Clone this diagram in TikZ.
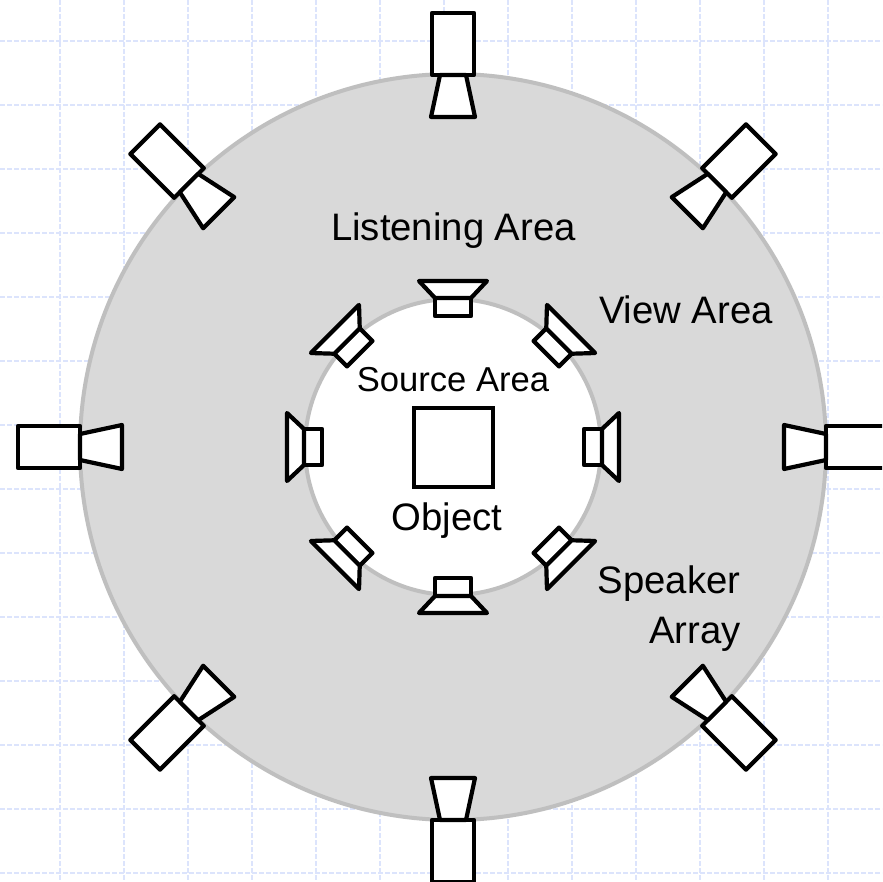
\documentclass[tikz,border=0pt]{standalone}
\usepackage{fontspec}
\setmainfont{Liberation Sans}
\definecolor{gridblue}{RGB}{220,228,252}
\tikzset{
  gridline/.style = {draw=gridblue, line width=1.6pt, dash pattern=on 5pt off 2pt},
      area/.style = {draw=black!25, line width=4pt},
   speaker/.style = {draw, fill=white, line width=4.2pt, line join=round},
     label/.style = {anchor=base, inner sep=0pt, font=\fontsize{38.3}{38.3}\selectfont},
  outerspeaker/.pic = {
    \draw[speaker] (-21,0) rectangle (21,-62);
    \draw[speaker] (-13,0) -- (13,0) -- (22,42) -- (-22,42) -- cycle;
  },
  innerspeaker/.pic = {
    \draw[speaker] (-18,0) rectangle (18,18);
    \draw[speaker] (-18,0) -- (18,0) -- (34,-17) -- (-34,-17) -- cycle;
  }
}
\begin{document}
\begin{tikzpicture}[x=1pt, y=-1pt]
\clip (0,0) rectangle (882,882);
\fill[white] (0,0) rectangle (882,882);
\foreach \x in {60,124,...,828} \draw[gridline] (\x,0) -- (\x,882);
\foreach \y in {41,105,...,873} \draw[gridline] (0,\y) -- (882,\y);
\draw[area, fill=black!15] (453,447) circle [radius=373pt];
\draw[area, fill=white] (453,447) circle [radius=148pt];
% outer ring
\pic at (453,75) {outerspeaker};
\pic[rotate=-45] at (717,183) {outerspeaker};
\pic[rotate=-90] at (826,447) {outerspeaker};
\pic[rotate=-135] at (717,711) {outerspeaker};
\pic[rotate=180] at (453,820) {outerspeaker};
\pic[rotate=135] at (189,711) {outerspeaker};
\pic[rotate=90] at (80,447) {outerspeaker};
\pic[rotate=45] at (189,183) {outerspeaker};
% inner ring
\pic at (453,298) {innerspeaker};
\pic[rotate=-45] at (559,341) {innerspeaker};
\pic[rotate=-90] at (602,447) {innerspeaker};
\pic[rotate=-135] at (559,553) {innerspeaker};
\pic[rotate=180] at (453,596) {innerspeaker};
\pic[rotate=135] at (347,553) {innerspeaker};
\pic[rotate=90] at (304,447) {innerspeaker};
\pic[rotate=45] at (347,341) {innerspeaker};
\node (objectbox) [draw, fill=white, line width=4.2pt, minimum size=79pt, inner sep=0pt] at (453.5,447.5) {};
\node (listening) [label] at (453.5,241) {Listening Area};
\node (view) [label] at (686,323) {View Area};
\node (source) [label, font=\fontsize{34.6}{34.6}\selectfont] at (453,391) {Source Area};
\node (object) [label] at (447,530) {Object};
\node (speakertext) [label] at (669,593) {Speaker};
\node (array) [label] at (695,643) {Array};
\end{tikzpicture}
\end{document}
